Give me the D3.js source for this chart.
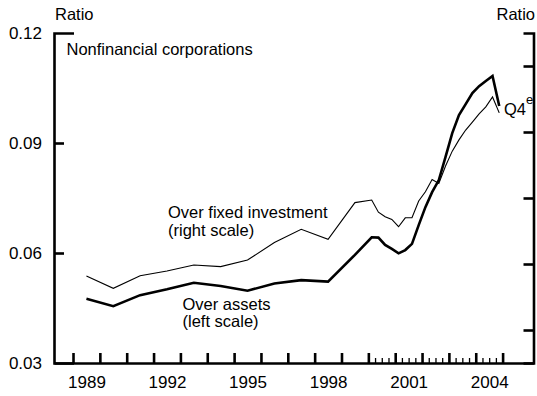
<!DOCTYPE html>
<html>
<head>
<meta charset="utf-8">
<script src="https://cdn.jsdelivr.net/npm/d3@7"></script>
<style>
  html, body { margin: 0; padding: 0; background: #fff; }
  svg { display: block; font-family: "Liberation Sans", Arial, sans-serif; }
</style>
</head>
<body>
<svg id="chart" width="537" height="396"></svg>
<script>
// ---- Data ----
const periods = [
  "1989","1990","1991","1992","1993","1994","1995","1996","1997","1998","1999",
  "2000Q1","2000Q2","2000Q3","2000Q4",
  "2001Q1","2001Q2","2001Q3","2001Q4",
  "2002Q1","2002Q2","2002Q3","2002Q4",
  "2003Q1","2003Q2","2003Q3","2003Q4",
  "2004Q1","2004Q2","2004Q3","2004Q4"
];
// Over assets (left scale)
const overAssets = [
  0.0475, 0.0455, 0.0485, 0.0501, 0.0519, 0.0510, 0.0497, 0.0517, 0.0526, 0.0522, 0.0595,
  0.0643, 0.0642, 0.0622, 0.0611,
  0.0599, 0.0608, 0.0625, 0.0676,
  0.0725, 0.0766, 0.0799, 0.0862,
  0.0927, 0.0976, 0.1006, 0.1036,
  0.1055, 0.1069, 0.1083, 0.1001
];
// Over fixed investment (right scale, unlabeled)
const overFixedInvestment = [
  0.4636, 0.4264, 0.4645, 0.479, 0.497, 0.492, 0.512, 0.565, 0.605, 0.575, 0.686,
  0.694, 0.657, 0.643, 0.635,
  0.613, 0.640, 0.640, 0.691,
  0.719, 0.756, 0.744, 0.797,
  0.842, 0.876, 0.906, 0.930,
  0.955, 0.976, 1.006, 0.958
];
const leftTicks = [0.03, 0.06, 0.09, 0.12];
const rightTicks = [0.3, 0.5, 0.7, 0.9, 1.1];
const yearLabels = [1989, 1992, 1995, 1998, 2001, 2004];
const majorYears = d3.range(1989, 2006);
const minorQuarterYears = [2000, 2001, 2002, 2003, 2004];

// period string -> decimal time (mid-year or mid-quarter)
function toTime(p) {
  if (p.includes("Q")) {
    const [y, q] = p.split("Q");
    return +y + (+q - 1) * 0.25 + 0.125;
  }
  return +p + 0.5;
}

// ---- Layout ----
const svg = d3.select("#chart");
const mLeft = 54, mRight = 533.5, mTop = 33, mBottom = 363;
const font = "Liberation Sans, Arial, sans-serif";

const x = d3.scaleLinear().domain([1988.292, 2006.151]).range([mLeft, mRight]);
const yL = d3.scaleLinear().domain([0.03, 0.12]).range([mBottom, mTop]);
const yR = d3.scaleLinear().domain([0.2, 1.2]).range([mBottom, mTop]);

// ---- Lines ----
const rows = periods.map((p, i) => ({ t: toTime(p), a: overAssets[i], f: overFixedInvestment[i] }));

svg.append("path")
  .datum(rows)
  .attr("fill", "none").attr("stroke", "#000").attr("stroke-width", 1.1)
  .attr("stroke-linejoin", "miter")
  .attr("d", d3.line().x(d => x(d.t)).y(d => yR(d.f)));

svg.append("path")
  .datum(rows)
  .attr("fill", "none").attr("stroke", "#000").attr("stroke-width", 2.6)
  .attr("stroke-linejoin", "miter")
  .attr("d", d3.line().x(d => x(d.t)).y(d => yL(d.a)));

// ---- Axes ----
function styleAxis(g, sw) {
  g.selectAll("path.domain").attr("stroke", "#000").attr("stroke-width", sw);
  g.selectAll(".tick line").attr("stroke", "#000").attr("stroke-width", sw);
  g.selectAll("text").attr("fill", "#000").attr("font-family", font);
}

// left axis
const gL = svg.append("g").attr("transform", `translate(${mLeft},0)`)
  .call(d3.axisLeft(yL).tickValues(leftTicks).tickFormat(d3.format(".2f"))
    .tickSizeInner(-10).tickSizeOuter(-20).tickPadding(12));
styleAxis(gL, 2.6);
gL.selectAll("text").attr("font-size", 17);
gL.selectAll(".tick").filter(d => d === 0.03 || d === 0.12).select("line").remove();

// right axis
const gR = svg.append("g").attr("transform", `translate(${mRight},0)`)
  .call(d3.axisRight(yR).tickValues(rightTicks).tickFormat("")
    .tickSizeInner(-10).tickSizeOuter(-10));
styleAxis(gR, 2.6);

// bottom axis: major year ticks
const gB = svg.append("g").attr("transform", `translate(0,${mBottom})`)
  .call(d3.axisBottom(x).tickValues(majorYears).tickFormat("")
    .tickSizeInner(-10).tickSizeOuter(0));
styleAxis(gB, 2.6);

// minor quarter ticks
const minorTicks = [];
minorQuarterYears.forEach(y => [0.25, 0.5, 0.75].forEach(q => minorTicks.push(y + q)));
const gM = svg.append("g").attr("transform", `translate(0,${mBottom})`)
  .call(d3.axisBottom(x).tickValues(minorTicks).tickFormat("")
    .tickSizeInner(-5).tickSizeOuter(0));
gM.select("path.domain").remove();
styleAxis(gM, 1.3);

// year labels at mid-year
const gLab = svg.append("g").attr("transform", `translate(0,${mBottom})`)
  .call(d3.axisBottom(x).tickValues(yearLabels.map(y => y + 0.5)).tickFormat(d => String(Math.floor(d)))
    .tickSize(0).tickPadding(13));
gLab.select("path.domain").remove();
styleAxis(gLab, 0);
gLab.selectAll("text").attr("font-size", 17);

// ---- Text ----
function label(txt, px, py, size, anchor) {
  svg.append("text").attr("x", px).attr("y", py)
    .attr("font-family", font).attr("font-size", size)
    .attr("text-anchor", anchor || "start").attr("fill", "#000").text(txt);
}
label("Ratio", 55, 20, 16.5);
label("Ratio", 535, 20, 16.5, "end");
label("Nonfinancial corporations", 66.5, 55, 16.5);
label("Over fixed investment", 168, 218, 16.5);
label("(right scale)", 168, 235.5, 16.5);
label("Over assets", 182.5, 309.5, 16.5);
label("(left scale)", 182.5, 327, 16.5);
const q4 = svg.append("text").attr("x", 504).attr("y", 115)
  .attr("font-family", font).attr("font-size", 16.5).attr("fill", "#000");
q4.append("tspan").text("Q4");
q4.append("tspan").attr("dy", -11).attr("font-size", 13).text("e");
</script>
</body>
</html>
